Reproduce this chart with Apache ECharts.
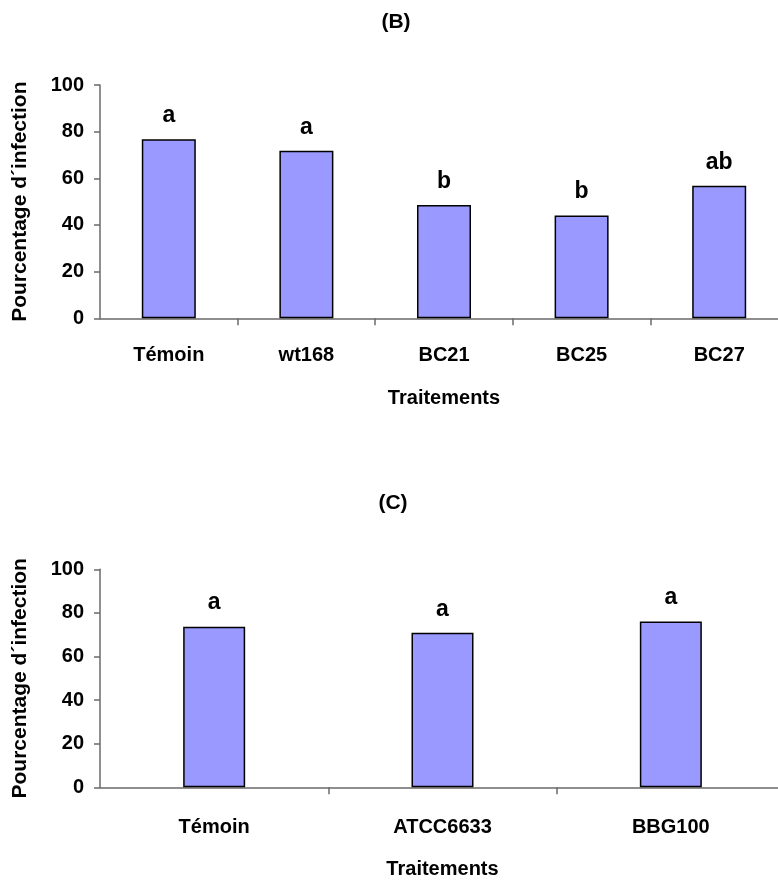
<!DOCTYPE html>
<html>
<head>
<meta charset="utf-8">
<script src="https://cdn.jsdelivr.net/npm/echarts@6/dist/echarts.min.js"></script>
<style>
  html, body { margin: 0; padding: 0; background: #ffffff; overflow: hidden; }
  #chart { width: 800px; height: 881px; }
</style>
</head>
<body>
<div id="chart"></div>
<script>
// Panel (B): infection percentage per treatment
const categoriesB = ['Témoin', 'wt168', 'BC21', 'BC25', 'BC27'];
const valuesB = [76.8, 71.8, 48.6, 44.1, 56.8];
const lettersB = ['a', 'a', 'b', 'b', 'ab'];

// Panel (C): infection percentage per treatment
const categoriesC = ['Témoin', 'ATCC6633', 'BBG100'];
const valuesC = [73.7, 70.9, 76.1];
const lettersC = ['a', 'a', 'a'];

const yTicks = [0, 20, 40, 60, 80, 100];

const FONT = '"Liberation Sans", Arial, sans-serif';
const AXIS_COLOR = '#6a6a6a';

function yAxisFor(gridIndex) {
  return {
    type: 'value',
    gridIndex: gridIndex,
    min: yTicks[0],
    max: yTicks[yTicks.length - 1],
    interval: yTicks[1] - yTicks[0],
    name: 'Pourcentage d\u00B4infection',
    nameLocation: 'middle',
    nameGap: 69,
    nameTextStyle: { fontFamily: FONT, fontWeight: 'bold', fontSize: 21, color: '#000' },
    axisLine: { show: true, lineStyle: { color: AXIS_COLOR, width: 1.5 } },
    axisTick: { show: true, length: 6, lineStyle: { color: AXIS_COLOR, width: 1.5 } },
    axisLabel: { fontFamily: FONT, fontWeight: 'bold', fontSize: 20, color: '#000', margin: 16 },
    splitLine: { show: false }
  };
}

function xAxisFor(gridIndex, cats, labelMargin, nameGap) {
  return {
    type: 'category',
    gridIndex: gridIndex,
    data: cats,
    name: 'Traitements',
    nameLocation: 'middle',
    nameGap: nameGap,
    nameTextStyle: { fontFamily: FONT, fontWeight: 'bold', fontSize: 20, color: '#000' },
    axisLine: { show: true, lineStyle: { color: AXIS_COLOR, width: 1.5 } },
    axisTick: {
      show: true,
      length: 7,
      alignWithLabel: false,
      interval: (i) => i > 0,
      lineStyle: { color: AXIS_COLOR, width: 1.5 }
    },
    axisLabel: { fontFamily: FONT, fontWeight: 'bold', fontSize: 20, color: '#000', margin: labelMargin, interval: 0 },
    splitLine: { show: false }
  };
}

function barSeries(index, values, letters, width) {
  return {
    type: 'bar',
    xAxisIndex: index,
    yAxisIndex: index,
    data: values,
    barWidth: width,
    itemStyle: { color: '#9999ff', borderColor: '#000', borderWidth: 1.5 },
    label: {
      show: true,
      position: 'top',
      distance: 12,
      formatter: p => letters[p.dataIndex],
      fontFamily: FONT,
      fontWeight: 'bold',
      fontSize: 23,
      color: '#000'
    },
    silent: true
  };
}

function panelTitle(text, x, y) {
  return {
    type: 'text',
    x: x,
    y: y,
    style: {
      text: text,
      fontFamily: FONT,
      fontWeight: 'bold',
      fontSize: 21,
      fill: '#000',
      textAlign: 'center',
      textVerticalAlign: 'middle'
    }
  };
}

const chart = echarts.init(document.getElementById('chart'), null, { renderer: 'canvas' });
chart.setOption({
  backgroundColor: '#ffffff',
  animation: false,
  graphic: [
    panelTitle('(B)', 396, 22),
    panelTitle('(C)', 393, 503)
  ],
  grid: [
    { left: 100, top: 85, width: 688, height: 233.3 },
    { left: 100, top: 569.3, width: 685, height: 218 }
  ],
  xAxis: [
    xAxisFor(0, categoriesB, 27, 70),
    xAxisFor(1, categoriesC, 30, 72)
  ],
  yAxis: [yAxisFor(0), yAxisFor(1)],
  series: [
    barSeries(0, valuesB, lettersB, 54),
    barSeries(1, valuesC, lettersC, 62)
  ]
});
</script>
</body>
</html>
